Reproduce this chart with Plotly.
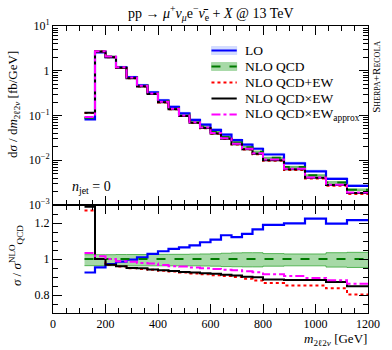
import plotly.graph_objects as go
from plotly.subplots import make_subplots

# ---------------- data ----------------
bin_edges = [120, 160, 200, 240, 280, 320, 360, 400, 440, 480, 520, 560, 600, 640,
             680, 720, 760, 800, 880, 960, 1040, 1120, 1200]

# NLO QCD differential cross section [fb/GeV]
nlo_qcd = [0.089, 2.7, 2.08, 1.21, 0.72, 0.47, 0.32, 0.21, 0.148, 0.105, 0.074,
           0.057, 0.043, 0.033, 0.025, 0.0195, 0.0155, 0.0113, 0.0071, 0.0046,
           0.0032, 0.0022]

# ratios to NLO QCD
ratio_lo = [0.925, 0.953, 0.972, 0.985, 0.996, 1.009, 1.028, 1.043, 1.056, 1.065,
            1.076, 1.093, 1.108, 1.132, 1.122, 1.140, 1.165, 1.190, 1.198, 1.224,
            1.196, 1.216]
ratio_qcd_plus_ew = [1.27, 1.0, 0.966, 0.958, 0.948, 0.945, 0.940, 0.935, 0.930,
                     0.925, 0.920, 0.915, 0.910, 0.905, 0.900, 0.890, 0.880, 0.866,
                     0.853, 0.853, 0.838, 0.803]
ratio_qcd_times_ew = [1.29, 1.0, 0.968, 0.960, 0.950, 0.948, 0.942, 0.938, 0.933,
                      0.928, 0.925, 0.921, 0.918, 0.912, 0.908, 0.902, 0.898, 0.886,
                      0.884, 0.884, 0.872, 0.848]
ratio_qcd_times_ew_approx = [1.034, 1.015, 1.0, 0.988, 0.985, 0.978, 0.975, 0.966,
                             0.960, 0.958, 0.953, 0.948, 0.945, 0.940, 0.937, 0.932,
                             0.927, 0.915, 0.905, 0.895, 0.882, 0.862]
ratio_nlo = [1.0] * 22

# NLO QCD scale-uncertainty band (ratio)
nlo_band_low = [0.963, 0.963, 0.963, 0.963, 0.962, 0.962, 0.962, 0.962, 0.962, 0.962,
                0.962, 0.961, 0.960, 0.958, 0.957, 0.956, 0.956, 0.960, 0.962, 0.962,
                0.955, 0.953]
nlo_band_high = [1.024, 1.024, 1.024, 1.025, 1.025, 1.025, 1.025, 1.026, 1.026, 1.026,
                 1.027, 1.028, 1.029, 1.032, 1.034, 1.035, 1.035, 1.030, 1.028, 1.028,
                 1.035, 1.037]
# LO scale-uncertainty band (relative to LO)
lo_band_low = [0.97] * 22
lo_band_high = [1.08, 1.08, 1.08, 1.08, 1.08, 1.08, 1.08, 1.08, 1.08, 1.08, 1.08,
                1.09, 1.09, 1.09, 1.09, 1.09, 1.09, 1.10, 1.10, 1.10, 1.10, 1.10]

x_ticks = [0, 200, 400, 600, 800, 1000, 1200]
x_ticklabels = ["0", "200", "400", "600", "800", "1000", "1200"]
y_top_ticks = [1e-3, 1e-2, 1e-1, 1, 10]
y_top_ticklabels = ["10<sup>−3</sup>", "10<sup>−2</sup>", "10<sup>−1</sup>", "1", "10<sup>1</sup>"]
y_bot_ticks = [0.8, 1.0, 1.2]
y_bot_ticklabels = ["0.8", "1", "1.2"]

# ---------------- figure ----------------
FONT = "Liberation Serif"
BLUE = "#0000ff"
GREEN = "#007a00"
BAND_GREEN = "rgba(60,170,60,0.45)"
RED = "#ff0000"
MAG = "#ff00ff"
LIGHTBLUE = "rgba(110,140,255,0.30)"


def step(vals):
    return list(vals) + [vals[-1]]


def mul(a, b):
    return [x * y for x, y in zip(a, b)]


fig = make_subplots(rows=2, cols=1, shared_xaxes=True, vertical_spacing=0,
                    row_heights=[179, 108])

lo_abs = mul(nlo_qcd, ratio_lo)

# ---- top panel ----
fig.add_trace(go.Scatter(x=bin_edges, y=step(mul(lo_abs, lo_band_low)), mode="lines",
                         line=dict(width=0, shape="hv"), showlegend=False,
                         hoverinfo="skip"), row=1, col=1)
fig.add_trace(go.Scatter(x=bin_edges, y=step(mul(lo_abs, lo_band_high)), mode="lines",
                         line=dict(width=0, shape="hv"), fill="tonexty",
                         fillcolor=LIGHTBLUE, showlegend=False, hoverinfo="skip"),
              row=1, col=1)
fig.add_trace(go.Scatter(x=bin_edges, y=step(mul(nlo_qcd, nlo_band_low)), mode="lines",
                         line=dict(width=0.8, shape="hv", color="rgba(40,160,40,0.8)"),
                         showlegend=False, hoverinfo="skip"), row=1, col=1)
fig.add_trace(go.Scatter(x=bin_edges, y=step(mul(nlo_qcd, nlo_band_high)), mode="lines",
                         line=dict(width=0.8, shape="hv", color="rgba(40,160,40,0.8)"),
                         fill="tonexty", fillcolor=BAND_GREEN, showlegend=False,
                         hoverinfo="skip"), row=1, col=1)

top_series = [
    (lo_abs, BLUE, "solid", 2.2),
    (nlo_qcd, GREEN, "dash", 2.0),
    (mul(nlo_qcd, ratio_qcd_plus_ew), RED, "dot", 2.0),
    (mul(nlo_qcd, ratio_qcd_times_ew), "black", "solid", 2.0),
    (mul(nlo_qcd, ratio_qcd_times_ew_approx), MAG, "dashdot", 2.0),
]
for vals, col, dash, w in top_series:
    fig.add_trace(go.Scatter(x=bin_edges, y=step(vals), mode="lines",
                             line=dict(color=col, dash=dash, width=w, shape="hv"),
                             showlegend=False), row=1, col=1)

# ---- ratio panel ----
fig.add_trace(go.Scatter(x=bin_edges, y=step(nlo_band_low), mode="lines",
                         line=dict(width=0.8, shape="hv", color="rgba(40,160,40,0.9)"),
                         showlegend=False, hoverinfo="skip"), row=2, col=1)
fig.add_trace(go.Scatter(x=bin_edges, y=step(nlo_band_high), mode="lines",
                         line=dict(width=0.8, shape="hv", color="rgba(40,160,40,0.9)"),
                         fill="tonexty", fillcolor=BAND_GREEN, showlegend=False,
                         hoverinfo="skip"), row=2, col=1)
bot_series = [
    (ratio_lo, BLUE, "solid", 2.2),
    (ratio_nlo, GREEN, "dash", 2.0),
    (ratio_qcd_plus_ew, RED, "dot", 2.0),
    (ratio_qcd_times_ew, "black", "solid", 2.0),
    (ratio_qcd_times_ew_approx, MAG, "dashdot", 2.0),
]
for vals, col, dash, w in bot_series:
    fig.add_trace(go.Scatter(x=bin_edges, y=step(vals), mode="lines",
                             line=dict(color=col, dash=dash, width=w, shape="hv"),
                             showlegend=False), row=2, col=1)

# ---- axes ----
axis_common = dict(showline=True, linecolor="black", linewidth=1, mirror="allticks",
                   ticks="inside", tickcolor="black", showgrid=False, zeroline=False,
                   tickfont=dict(family=FONT, size=12, color="black"))

fig.update_xaxes(range=[0, 1200], tickvals=x_ticks, ticktext=x_ticklabels, ticklen=9,
                 minor=dict(dtick=50, tick0=0, ticks="inside", ticklen=5,
                            tickcolor="black"),
                 **axis_common)
fig.update_xaxes(showticklabels=False, row=1, col=1)

minor_log = [k * 10 ** e for e in range(-3, 1) for k in range(2, 10)]
fig.update_yaxes(type="log", range=[-3, 1], tickvals=y_top_ticks,
                 ticktext=y_top_ticklabels, ticklen=9,
                 minor=dict(tickvals=minor_log, ticks="inside", ticklen=5,
                            tickcolor="black"),
                 row=1, col=1, **axis_common)
fig.update_yaxes(range=[0.7, 1.3], tickvals=y_bot_ticks, ticktext=y_bot_ticklabels,
                 ticklen=9,
                 minor=dict(dtick=0.05, tick0=0.7, ticks="inside", ticklen=5,
                            tickcolor="black"),
                 row=2, col=1, **axis_common)

# ---- layout ----
L, R, T, B = 53, 15, 26, 37
W, H = 392, 350
pw, ph = W - L - R, H - T - B


def px(xp):
    return (xp - L) / pw


def py(yp):
    return 1 - (yp - T) / ph


fig.update_layout(width=W, height=H, margin=dict(l=L, r=R, t=T, b=B),
                  plot_bgcolor="white", paper_bgcolor="white", showlegend=False,
                  hovermode=False,
                  font=dict(family=FONT, color="black"))

ann = []
ann.append(dict(text="pp → <i>μ</i><sup>+</sup><i>ν</i><sub><i>μ</i></sub>e<sup>−</sup><i>ν̄</i><sub>e</sub> + <i>X</i> @ 13 TeV",
                x=px(215), y=py(13), xref="paper", yref="paper", showarrow=False,
                font=dict(size=14, family=FONT), xanchor="center", yanchor="middle"))
ann.append(dict(text="d<i>σ</i> / d<i>m</i><sub>2ℓ2<i>ν</i></sub> [fb/GeV]",
                x=px(13), y=py(105), xref="paper", yref="paper", showarrow=False,
                textangle=-90, font=dict(size=13, family=FONT), xanchor="center",
                yanchor="middle"))
ann.append(dict(text="<i>σ</i> / <i>σ</i><sup>NLO</sup><sub>QCD</sub>",
                x=px(15), y=py(256), xref="paper", yref="paper", showarrow=False,
                textangle=-90, font=dict(size=13, family=FONT), xanchor="center",
                yanchor="middle"))
ann.append(dict(text="<i>m</i><sub>2ℓ2<i>ν</i></sub> [GeV]",
                x=px(378), y=py(339), xref="paper", yref="paper", showarrow=False,
                font=dict(size=13, family=FONT), xanchor="right", yanchor="middle"))
ann.append(dict(text="<i>n</i><sub>jet</sub> = 0",
                x=px(70), y=py(187), xref="paper", yref="paper", showarrow=False,
                font=dict(size=14, family=FONT), xanchor="left", yanchor="middle"))
ann.append(dict(text="S<span style='font-size:8px'>HERPA</span>+R<span style='font-size:8px'>ECOLA</span>",
                x=px(385), y=py(77), xref="paper", yref="paper", showarrow=False,
                textangle=-90, font=dict(size=11, family=FONT), xanchor="center",
                yanchor="middle"))

# manual legend
leg_x0, leg_x1, leg_tx = 216, 242, 248
leg_items = [
    ("LO", BLUE, "solid", LIGHTBLUE),
    ("NLO QCD", GREEN, "dash", BAND_GREEN),
    ("NLO QCD+EW", RED, "dot", None),
    ("NLO QCD×EW", "black", "solid", None),
    ("NLO QCD×EW<sub>approx</sub>", MAG, "dashdot", None),
]
shapes = []
for i, (lab, col, dash, box) in enumerate(leg_items):
    yc = 50.5 + 16 * i
    if box:
        shapes.append(dict(type="rect", xref="paper", yref="paper",
                           x0=px(leg_x0), x1=px(leg_x1), y0=py(yc - 4), y1=py(yc + 4),
                           fillcolor=box, line=dict(width=0.6, color=box)))
    shapes.append(dict(type="line", xref="paper", yref="paper",
                       x0=px(leg_x0), x1=px(leg_x1), y0=py(yc), y1=py(yc),
                       line=dict(color=col, dash=dash, width=2)))
    ann.append(dict(text=lab, x=px(leg_tx), y=py(yc), xref="paper", yref="paper",
                    showarrow=False, xanchor="left", yanchor="middle",
                    font=dict(size=13.5, family=FONT)))

fig.update_layout(annotations=ann, shapes=shapes)

fig.write_html("out.html", config={"displayModeBar": False, "staticPlot": True},
               post_script="document.body.style.margin='0';document.body.style.overflow='hidden';")
